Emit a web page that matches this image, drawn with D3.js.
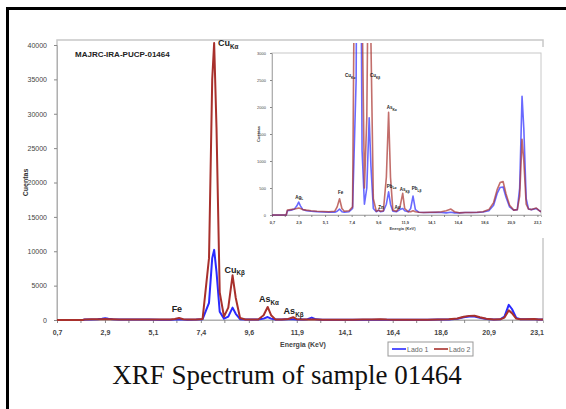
<!DOCTYPE html>
<html>
<head>
<meta charset="utf-8">
<script src="https://cdn.jsdelivr.net/npm/d3@7"></script>
<style>
  body { margin: 0; background: #fff; }
  svg { display: block; }
</style>
</head>
<body>
<div id="chart"></div>
<script>
// Spectrum (energy in keV, counts)
const energy = [0.7, 1.0, 1.5, 1.9, 2.0, 2.3, 2.6, 2.8, 2.95, 3.1, 3.3, 3.6, 4.0, 4.5, 5.0, 5.5, 6.0, 6.2, 6.4, 6.6, 6.8, 7.2, 7.5,
  7.8, 7.95, 8.04, 8.15, 8.3, 8.5, 8.7, 8.9, 9.05, 9.25, 9.5, 9.7, 9.85, 10.1, 10.35, 10.54, 10.7, 10.9, 11.2, 11.5, 11.73, 11.9,
  12.2, 12.4, 12.6, 12.8, 13.1, 13.5, 14.0, 14.5, 15.0, 15.4, 15.8, 16.1, 16.5, 17.0, 17.5, 18.0, 18.5, 19.0, 19.4, 19.7, 19.95,
  20.2, 20.45, 20.75, 21.1, 21.4, 21.6, 21.8, 21.95, 22.15, 22.35, 22.6, 23.0, 23.2, 23.4];
const lado1 = [0, 0, 0, 0, 80, 90, 110, 170, 240, 170, 100, 80, 70, 60, 55, 50, 50, 70, 110, 60, 50, 60, 120,
  2500, 9000, 10200, 7000, 1200, 200, 500, 1800, 900, 120, 60, 90, 60, 70, 200, 430, 200, 70, 60, 100, 120, 80,
  60, 120, 350, 100, 50, 45, 45, 50, 45, 40, 50, 40, 40, 45, 45, 45, 55, 80, 180, 400, 510,
  520, 330, 150, 90, 100, 500, 2200, 1600, 300, 110, 100, 120, 90, 60];
const lado2 = [0, 0, 0, 0, 90, 100, 110, 120, 130, 120, 100, 90, 80, 70, 65, 60, 70, 150, 300, 120, 70, 80, 150,
  9000, 35000, 40300, 28000, 4000, 500, 1800, 6500, 3200, 300, 70, 90, 70, 80, 700, 1900, 700, 90, 70, 150, 400, 120,
  60, 60, 80, 60, 50, 45, 50, 50, 60, 80, 110, 60, 40, 45, 45, 50, 60, 100, 230, 470, 600,
  620, 390, 180, 90, 100, 350, 1400, 1000, 200, 110, 100, 130, 90, 60];

const seriesNames = ["Lado 1", "Lado 2"];
const seriesColors = ["#2a2aff", "#a8302c"];

const xTickValues = [0.7, 2.94, 5.18, 7.42, 9.66, 11.9, 14.14, 16.38, 18.62, 20.86, 23.1];
const xTickLabels = ["0,7", "2,9", "5,1", "7,4", "9,6", "11,9", "14,1", "16,4", "18,6", "20,9", "23,1"];
const xMinorTicks = [1.82, 4.06, 6.3, 8.54, 10.78, 13.02, 15.26, 17.5, 19.74, 21.98];
const yTicksMain = [0, 5000, 10000, 15000, 20000, 25000, 30000, 35000, 40000];
const yTicksInset = [0, 500, 1000, 1500, 2000, 2500, 3000];

// peak labels: element, line, energy, counts
const mainPeakLabels = [
  ["Cu", "Kα", 8.7, 39800],
  ["Cu", "Kβ", 9.0, 6900],
  ["Fe", "", 6.3, 1200],
  ["As", "Kα", 10.6, 2600],
  ["As", "Kβ", 11.75, 900]
];
const insetPeakLabels = [
  ["Ag", "L", 3.0, 300],
  ["Fe", "", 6.5, 380],
  ["Cu", "Kα", 7.3, 2550],
  ["Cu", "Kβ", 9.4, 2550],
  ["As", "Kα", 10.8, 1960],
  ["Pb", "Lα", 10.8, 500],
  ["Zn", "", 9.9, 110],
  ["Au", "", 11.3, 110],
  ["As", "Kβ", 11.9, 440],
  ["Pb", "Lβ", 12.9, 460]
];

const W = 566, H = 409;
const svg = d3.select("#chart").append("svg")
  .attr("width", W).attr("height", H)
  .style("font-family", "Arial, 'Liberation Sans', sans-serif");

svg.append("rect").attr("width", W).attr("height", H).attr("fill", "#fff");
// outer frame (right and bottom edges are cut off in the original)
svg.append("path").attr("d", "M7.5,409V8.5H566")
  .attr("fill", "none").attr("stroke", "#000").attr("stroke-width", 3);

const points = energy.map((e, i) => ({ e, v: [lado1[i], lado2[i]] }));

function drawSpectrum(g, x, y, opts) {
  const clipId = "clip" + opts.id;
  g.append("clipPath").attr("id", clipId).append("rect")
    .attr("x", x.range()[0]).attr("y", y.range()[1] - 10)
    .attr("width", x.range()[1] - x.range()[0])
    .attr("height", y.range()[0] - y.range()[1] + 12);
  // plot border
  g.append("rect")
    .attr("x", x.range()[0]).attr("y", opts.top)
    .attr("width", x.range()[1] - x.range()[0])
    .attr("height", y.range()[0] - opts.top)
    .attr("fill", "none").attr("stroke", "#c8c8c8").attr("stroke-width", opts.id === "main" ? 1.5 : 1);

  const yAxis = d3.axisLeft(y).tickValues(opts.yTicks).tickSize(opts.tick).tickPadding(opts.pad)
    .tickFormat(d3.format("d"));
  const ya = g.append("g").attr("transform", `translate(${x.range()[0]},0)`).call(yAxis);
  ya.select(".domain").attr("stroke", "#b0b0b0");
  ya.selectAll(".tick line").attr("stroke", "#888");
  ya.selectAll("text").attr("fill", "#444").style("font-size", opts.font + "px");

  const xAxis = d3.axisBottom(x).tickValues(xTickValues).tickSize(opts.tick).tickPadding(opts.pad)
    .tickFormat((d, i) => xTickLabels[i]);
  const xa = g.append("g").attr("transform", `translate(0,${y.range()[0]})`).call(xAxis);
  xa.select(".domain").attr("stroke", "#b0b0b0");
  xa.selectAll(".tick line").attr("stroke", "#888");
  xa.selectAll("text").attr("fill", "#444").style("font-size", opts.font + "px").style("font-weight", "bold");
  xa.selectAll(".minor").data(xMinorTicks).enter().append("line")
    .attr("x1", d => x(d)).attr("x2", d => x(d))
    .attr("y1", 0).attr("y2", opts.tick).attr("stroke", "#888");

  const line = k => d3.line().x(d => x(d.e)).y(d => y(d.v[k]));
  const lg = g.append("g").attr("clip-path", `url(#${clipId})`);
  [0, 1].forEach(k => {
    lg.append("path").datum(points)
      .attr("d", line(k))
      .attr("fill", "none")
      .attr("stroke", seriesColors[k])
      .attr("stroke-width", opts.lw)
      .attr("stroke-opacity", opts.opacity)
      .attr("stroke-linejoin", "round");
  });

  opts.labels.forEach(([el, sub, e, c]) => {
    const t = g.append("text")
      .attr("x", x(e)).attr("y", y(c))
      .attr("text-anchor", "middle")
      .attr("fill", "#222").style("font-weight", "bold")
      .style("font-size", opts.labelFont + "px")
      .text(el);
    if (sub) {
      t.append("tspan").attr("dy", opts.labelFont * 0.3)
        .style("font-size", (opts.labelFont * 0.7) + "px").text(sub);
    }
  });

  g.append("text")
    .attr("x", (x.range()[0] + x.range()[1]) / 2 + opts.xtitleShift)
    .attr("y", y.range()[0] + opts.xtitleY)
    .attr("text-anchor", "middle").attr("fill", "#444")
    .style("font-size", opts.font + "px").style("font-weight", "bold")
    .text("Energia (KeV)");
  g.append("text")
    .attr("transform", `translate(${x.range()[0] + opts.ytitleX},${(y.range()[0] + y.range()[1]) / 2}) rotate(-90)`)
    .attr("text-anchor", "middle").attr("fill", "#333")
    .style("font-size", opts.font + "px").style("font-weight", "bold")
    .text("Cuentas");
}

// main chart
const xMain = d3.scaleLinear().domain([0.7, 23.4]).range([57, 543]);
const yMain = d3.scaleLinear().domain([0, 40000]).range([320, 45]);
const gMain = svg.append("g");
drawSpectrum(gMain, xMain, yMain, {
  id: "main", top: 40, yTicks: yTicksMain, tick: 3, pad: 7, font: 7, lw: 2, opacity: 1,
  labels: mainPeakLabels, labelFont: 9, xtitleShift: 3, xtitleY: 27, ytitleX: -29
});
gMain.append("text").attr("x", 75).attr("y", 57)
  .attr("fill", "#222").style("font-weight", "bold").style("font-size", "8px")
  .text("MAJRC-IRA-PUCP-01464");

// inset chart
const gInset = svg.append("g");
gInset.append("rect").attr("x", 244).attr("y", 47).attr("width", 302).attr("height", 191)
  .attr("fill", "#fff");
const xIn = d3.scaleLinear().domain([0.7, 23.4]).range([272, 541]);
const yIn = d3.scaleLinear().domain([0, 3000]).range([215, 53]);
drawSpectrum(gInset, xIn, yIn, {
  id: "inset", top: 53, yTicks: yTicksInset, tick: 2, pad: 4, font: 4, lw: 1.6, opacity: 0.7,
  labels: insetPeakLabels, labelFont: 4.5, xtitleShift: -4, xtitleY: 15, ytitleX: -12
});

// legend
const legend = svg.append("g").attr("transform", "translate(388,342)");
legend.append("rect").attr("width", 85).attr("height", 14)
  .attr("fill", "#fff").attr("stroke", "#999");
seriesNames.forEach((name, i) => {
  const lx = 4 + i * 42;
  legend.append("line").attr("x1", lx).attr("x2", lx + 14).attr("y1", 7).attr("y2", 7)
    .attr("stroke", seriesColors[i]).attr("stroke-width", 1.6);
  legend.append("text").attr("x", lx + 15).attr("y", 9.5)
    .attr("fill", "#666").style("font-size", "7px").text(name);
});

// caption
svg.append("text").attr("x", 287).attr("y", 384).attr("text-anchor", "middle")
  .style("font-family", "'Liberation Serif', 'Times New Roman', serif")
  .style("font-size", "27px").attr("fill", "#111")
  .text("XRF Spectrum of sample 01464");
</script>
</body>
</html>
